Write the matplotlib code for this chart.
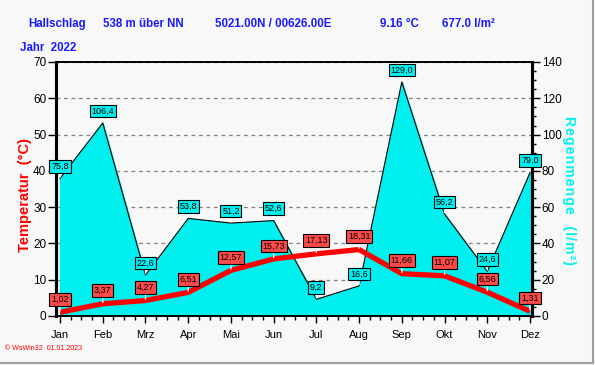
import matplotlib
matplotlib.use('Agg')
import matplotlib.pyplot as plt
from matplotlib.ticker import MultipleLocator
from matplotlib.lines import Line2D

plt.rcParams['font.family'] = ['Liberation Sans', 'DejaVu Sans']

months = ['Jan', 'Feb', 'Mrz', 'Apr', 'Mai', 'Jun', 'Jul', 'Aug', 'Sep', 'Okt', 'Nov', 'Dez']
temp = [1.02, 3.37, 4.27, 6.51, 12.57, 15.73, 17.13, 18.31, 11.66, 11.07, 6.56, 1.31]
rain = [75.8, 106.4, 22.6, 53.8, 51.2, 52.6, 9.2, 16.6, 129.0, 56.2, 24.6, 79.0]

bg = '#f8f8f8'
blue = '#1a1aff'
cyan = '#00f0f0'

fig = plt.figure(figsize=(5.95, 3.65), dpi=100, facecolor=bg)
ax = fig.add_axes([56/595, 1-316/365, 476/595, 254/365])
ax2 = ax.twinx()
ax.set_zorder(ax2.get_zorder() + 1)
ax.patch.set_visible(False)
ax2.set_facecolor(bg)

x = list(range(len(months)))

# rain area on the right axis, grid stays under it
ax2.fill_between(x, rain, 0, color=cyan, zorder=2)
ax2.plot(x, rain, color='black', lw=0.8, zorder=3)
ax2.set_ylim(0, 140)
ax2.yaxis.set_major_locator(MultipleLocator(20))
ax2.yaxis.set_minor_locator(MultipleLocator(5))
ax2.set_axisbelow(True)
ax2.grid(True, which='major', axis='both', color='#808080', ls=(0, (3, 3)), lw=0.9)
ax2.tick_params(axis='y', which='major', length=6, width=1, labelsize=8.5, pad=1)
ax2.tick_params(axis='y', which='minor', length=3, width=1)

ax.set_ylim(0, 70)
ax.set_xlim(-0.094, 11.047)
ax2.set_xlim(-0.094, 11.047)

# rain value boxes, drawn on the top axes so the spines don't cover them
for i, r in enumerate(rain):
    ax.annotate(f'{r:.1f}'.replace('.', ','), xy=(i, r), xycoords=ax2.transData,
                xytext=(0, 8.6), textcoords='offset points',
                ha='center', va='center', fontsize=6.5, zorder=5, annotation_clip=False,
                bbox=dict(boxstyle='square,pad=0.2', fc=cyan, ec='black', lw=0.8),
                arrowprops=dict(arrowstyle='-', color='white', lw=1, shrinkA=0, shrinkB=1))

# temperature line
ax.plot(x, temp, color='#ff0000', lw=3.8, solid_capstyle='butt', zorder=4)
for i, t in enumerate(temp):
    ax.annotate(f'{t:.2f}'.replace('.', ','), xy=(i, t), xytext=(0, 9.4), textcoords='offset points',
                ha='center', va='center', fontsize=6.5, zorder=6,
                bbox=dict(boxstyle='square,pad=0.2', fc='#ff4a4a', ec='black', lw=0.8),
                arrowprops=dict(arrowstyle='-', color='white', lw=1, shrinkA=0, shrinkB=1))

ax.yaxis.set_major_locator(MultipleLocator(10))
ax.set_xticks(x)
ax.set_xticklabels(months)
ax.xaxis.set_minor_locator(MultipleLocator(0.25))
ax.tick_params(axis='y', which='major', length=6, width=1, labelsize=8.5, pad=1)
ax.tick_params(axis='x', which='major', length=5, width=1, labelsize=8, pad=5)
ax.tick_params(axis='x', which='minor', length=3, width=1)

for a in (ax, ax2):
    a.spines['left'].set_linewidth(2.2)
    a.spines['right'].set_linewidth(2.2)
    a.spines['top'].set_linewidth(1.2)
    a.spines['bottom'].set_linewidth(1.2)

# header texts
hdr = dict(color=blue, fontsize=8.3, fontweight='bold', va='center')
fig.text(28/595, 1-24/365, 'Hallschlag', **hdr)
fig.text(103/595, 1-24/365, '538 m über NN', **hdr)
fig.text(215/595, 1-24/365, '5021.00N / 00626.00E', **hdr)
fig.text(380/595, 1-24/365, '9.16 °C', **hdr)
fig.text(442/595, 1-24/365, '677.0 l/m²', **hdr)
fig.text(20/595, 1-48/365, 'Jahr  2022', **hdr)

fig.text(25/595, 1-195/365, 'Temperatur  (°C)', color='red', fontsize=10.5, fontweight='bold',
         rotation=90, ha='center', va='center')
fig.text(569/595, 1-190/365, '\u200a'.join('Regenmenge') + '   (\u200al\u200a/\u200am\u200a²\u200a)',
         color=cyan, fontsize=10, fontweight='bold', rotation=270, ha='center', va='center')

fig.text(5/595, 1-348/365, '© WsWin32  01.01.2023', color='red', fontsize=5, va='center')

# frame on right and bottom edges
fig.add_artist(Line2D([0.997, 0.997], [0.005, 1], color='#a0a0a0', lw=1.5, transform=fig.transFigure))
fig.add_artist(Line2D([0, 0.997], [0.005, 0.005], color='#a0a0a0', lw=1.5, transform=fig.transFigure))

fig.savefig('out.png', dpi=100, facecolor=bg)
